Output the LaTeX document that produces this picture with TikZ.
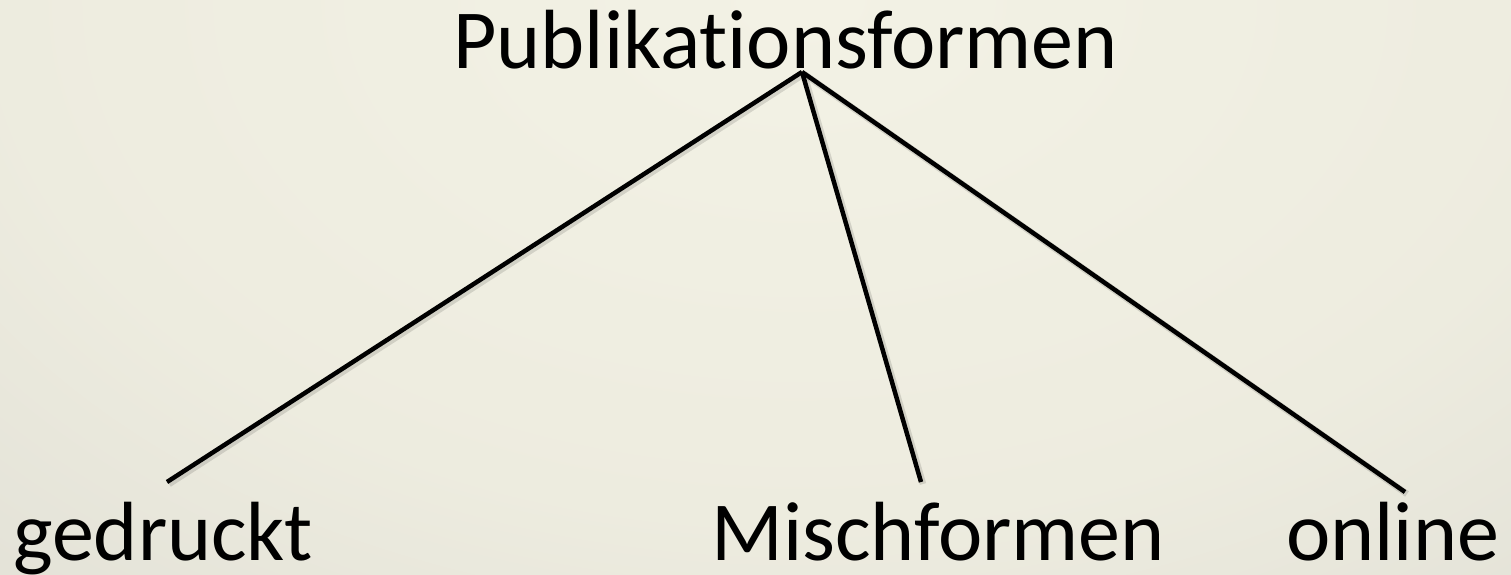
\documentclass[tikz,border=0pt]{standalone}
\usepackage{fontspec}
\setmainfont{Carlito}[Ligatures=NoCommon]
\pgfdeclareradialshading{bgshade}{\pgfpoint{0bp}{0bp}}{rgb(0bp)=(0.953,0.949,0.898); rgb(10bp)=(0.93,0.925,0.875); rgb(22bp)=(0.84,0.835,0.805); rgb(30bp)=(0.80,0.795,0.77); rgb(50bp)=(0.75,0.745,0.72)}
\tikzset{
  label/.style={anchor=base west, inner sep=0pt, font=\fontsize{84}{90}\selectfont, text=black},
  branch/.style={line width=4.5pt, black},
  branchshadow/.style={line width=6.5pt, black, opacity=0.12},
}
\begin{document}
\begin{tikzpicture}[x=1pt,y=1pt]
  \useasboundingbox (0,0) rectangle (1511,574);
  \begin{scope}
    \clip (0,0) rectangle (1511,574);
    \shade[shading=bgshade] (800,574) ellipse (2000 and 1300);
  \end{scope}
  \node[label] (pub) at (453,505) {Publikationsformen};
  \node[label] (ged) at (13,14) {gedruckt};
  \node[label] (misch) at (711,14) {Mischformen};
  \node[label] (onl) at (1286,14) {online};
  \coordinate (apex) at (802,502);
  \coordinate (gedend) at (167,92);
  \coordinate (mischend) at (921,92);
  \coordinate (onlend) at (1405,82);
  \foreach \e in {gedend,mischend,onlend}{
    \draw[branchshadow] ([shift={(2,-2)}]apex) -- ([shift={(2,-2)}]\e);
  }
  \draw[branch] (apex) -- (gedend);
  \draw[branch] (apex) -- (mischend);
  \draw[branch] (apex) -- (onlend);
\end{tikzpicture}
\end{document}
